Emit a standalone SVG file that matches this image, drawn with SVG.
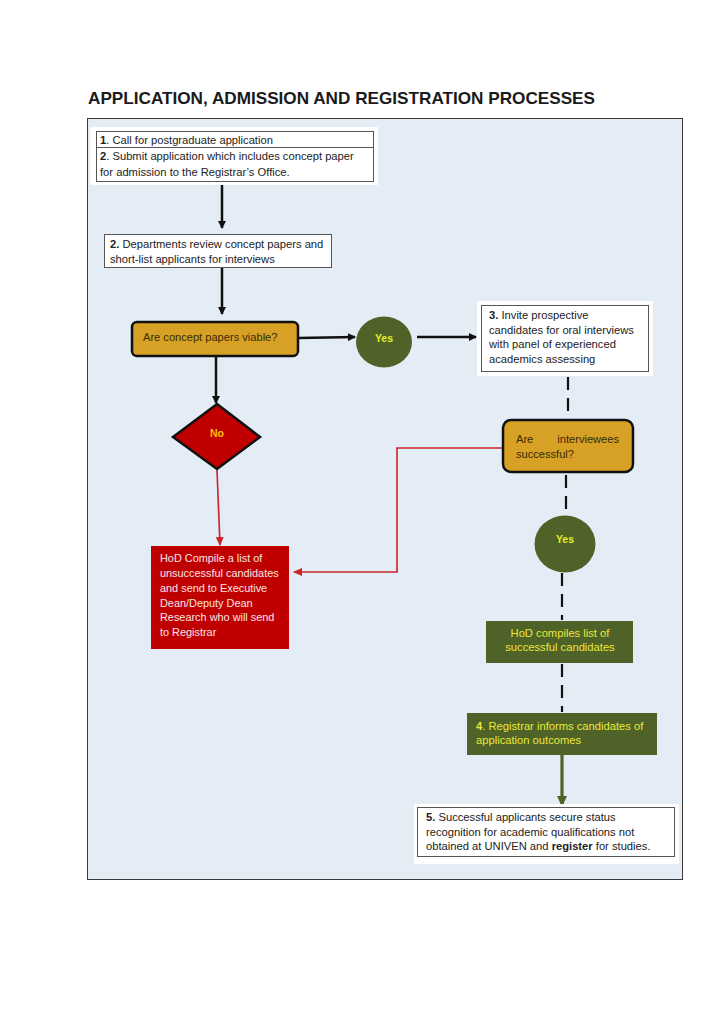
<svg xmlns="http://www.w3.org/2000/svg" width="724" height="1024" viewBox="0 0 724 1024">
<style>
text{font-family:"Liberation Sans",Arial,sans-serif;font-size:11.2px;fill:#222}
.t{fill:#1a1a1a}
.b{font-weight:bold}
.box{fill:#fff;stroke:#555;stroke-width:1}
.bk{fill:#fff}
.dec{fill:#d6a124;stroke:#111;stroke-width:2.5}
.dt{fill:#3a2b05;font-size:11.1px}
.grn{fill:#4f6228}
.yes{fill:#e4ef2a;font-weight:bold;font-size:10.5px}
.gt{fill:#e8e83a;font-size:11.2px}
.red{fill:#c00000}
.rt{fill:#fbe4e4;font-size:10.9px}
.c{fill:none;stroke:#111;stroke-width:2.5}
.d{fill:none;stroke:#111;stroke-width:2.2;stroke-dasharray:13 8}
.r{fill:none;stroke:#c8242a;stroke-width:1.6}
</style>
<defs>
<marker id="ab" markerWidth="8" markerHeight="8" refX="7" refY="4" orient="auto" markerUnits="userSpaceOnUse"><path d="M0,0 L8,4 L0,8 Z" fill="#111"/></marker>
<marker id="ar" markerWidth="9" markerHeight="8" refX="8" refY="4" orient="auto" markerUnits="userSpaceOnUse"><path d="M0,0 L9,4 L0,8 Z" fill="#c8242a"/></marker>
<marker id="ag" markerWidth="11" markerHeight="10" refX="10" refY="5" orient="auto" markerUnits="userSpaceOnUse"><path d="M0,0 L11,5 L0,10 Z" fill="#4f6228"/></marker>
</defs>
<rect width="724" height="1024" fill="#fff"/>
<text x="88" y="104" class="b t" style="font-size:17px" textLength="507" lengthAdjust="spacingAndGlyphs">APPLICATION, ADMISSION AND REGISTRATION PROCESSES</text>
<rect id="frame" x="87.5" y="118.5" width="595" height="761" fill="#e4ecf6" stroke="#3a3a3a" stroke-width="1"/>

<g id="connectors">
<line x1="222" y1="182" x2="222" y2="228" class="c" marker-end="url(#ab)"/>
<line x1="222" y1="268" x2="222" y2="314" class="c" marker-end="url(#ab)"/>
<line x1="298" y1="338" x2="355" y2="337" class="c" marker-end="url(#ab)"/>
<line x1="417" y1="337" x2="476" y2="337" class="c" marker-end="url(#ab)"/>
<line x1="216" y1="356" x2="216" y2="403" class="c" marker-end="url(#ab)"/>
<line x1="217" y1="470" x2="220" y2="545" class="r" marker-end="url(#ar)"/>
<polyline points="503,448 397,448 397,572 294,572" class="r" marker-end="url(#ar)"/>
<line x1="568" y1="377" x2="568" y2="419" class="d"/>
<line x1="566" y1="475" x2="566" y2="515" class="d"/>
<line x1="562" y1="573" x2="562" y2="620" class="d"/>
<line x1="562" y1="664" x2="562" y2="712" class="d"/>
<line x1="562" y1="755" x2="562" y2="806" fill="none" stroke="#4f6228" stroke-width="3.2" marker-end="url(#ag)"/>
</g>

<g id="n1">
<rect x="90" y="127" width="288" height="58" class="bk"/>
<rect x="96.5" y="131.5" width="277" height="50" class="box"/>
<line x1="96.5" y1="147.5" x2="373.5" y2="147.5" stroke="#555" stroke-width="1"/>
<text x="100" y="143.5"><tspan class="b">1</tspan>. Call for postgraduate application</text>
<text x="100" y="160"><tspan class="b">2</tspan>. Submit application which includes concept paper</text>
<text x="100" y="176">for admission to the Registrar’s Office.</text>
</g>

<g id="n2">
<rect x="104.5" y="234.5" width="227" height="33" class="box"/>
<text x="110" y="248"><tspan class="b">2.</tspan> Departments review concept papers and</text>
<text x="110" y="263">short-list applicants for interviews</text>
</g>

<g id="d1">
<rect x="132" y="322" width="166" height="34" rx="5" class="dec"/>
<text x="143" y="341" class="dt">Are concept papers viable?</text>
</g>

<g id="yes1">
<ellipse cx="384" cy="342" rx="28" ry="25.5" class="grn"/>
<text x="384" y="341.5" text-anchor="middle" class="yes">Yes</text>
</g>

<g id="n3">
<rect x="477" y="301" width="176" height="75" class="bk"/>
<rect x="481.5" y="305.5" width="167" height="66" class="box"/>
<text x="489" y="319"><tspan class="b">3.</tspan> Invite prospective</text>
<text x="489" y="333.5">candidates for oral interviews</text>
<text x="489" y="348">with panel of experienced</text>
<text x="489" y="363">academics assessing</text>
</g>

<g id="no">
<polygon points="217,404 260,437 217,469 173,437" fill="#c00000" stroke="#111" stroke-width="2.5" stroke-linejoin="miter"/>
<text x="217" y="437" text-anchor="middle" class="b" style="fill:#ffc000;font-size:10.5px">No</text>
</g>

<g id="d2">
<rect x="503" y="420" width="130" height="52" rx="8" class="dec"/>
<text x="516" y="443" class="dt">Are</text>
<text x="619" y="443" class="dt" text-anchor="end">interviewees</text>
<text x="516" y="458" class="dt">successful?</text>
</g>

<g id="hodred">
<rect x="151" y="546" width="138" height="103" class="red"/>
<text x="160" y="562" class="rt">HoD Compile a list of</text>
<text x="160" y="577" class="rt">unsuccessful candidates</text>
<text x="160" y="592" class="rt">and send to Executive</text>
<text x="160" y="607" class="rt">Dean/Deputy Dean</text>
<text x="160" y="621" class="rt">Research who will send</text>
<text x="160" y="636" class="rt">to Registrar</text>
</g>

<g id="yes2">
<ellipse cx="565" cy="544" rx="30.5" ry="28.5" class="grn"/>
<text x="565" y="543" text-anchor="middle" class="yes">Yes</text>
</g>

<g id="hodgreen">
<rect x="486" y="621" width="147" height="42" class="grn"/>
<text x="560" y="637" text-anchor="middle" class="gt">HoD compiles list of</text>
<text x="560" y="651" text-anchor="middle" class="gt">successful candidates</text>
</g>

<g id="n4">
<rect x="467" y="713" width="190" height="42" class="grn"/>
<text x="476" y="730" class="gt"><tspan class="b">4</tspan>. Registrar informs candidates of</text>
<text x="476" y="744" class="gt">application outcomes</text>
</g>

<g id="n5">
<rect x="414" y="804" width="265" height="60" class="bk"/>
<rect x="417.5" y="807.5" width="257" height="49" class="box"/>
<text x="426" y="821"><tspan class="b">5.</tspan> Successful applicants secure status</text>
<text x="426" y="836">recognition for academic qualifications not</text>
<text x="426" y="850">obtained at UNIVEN and <tspan class="b">register</tspan> for studies.</text>
</g>
</svg>
